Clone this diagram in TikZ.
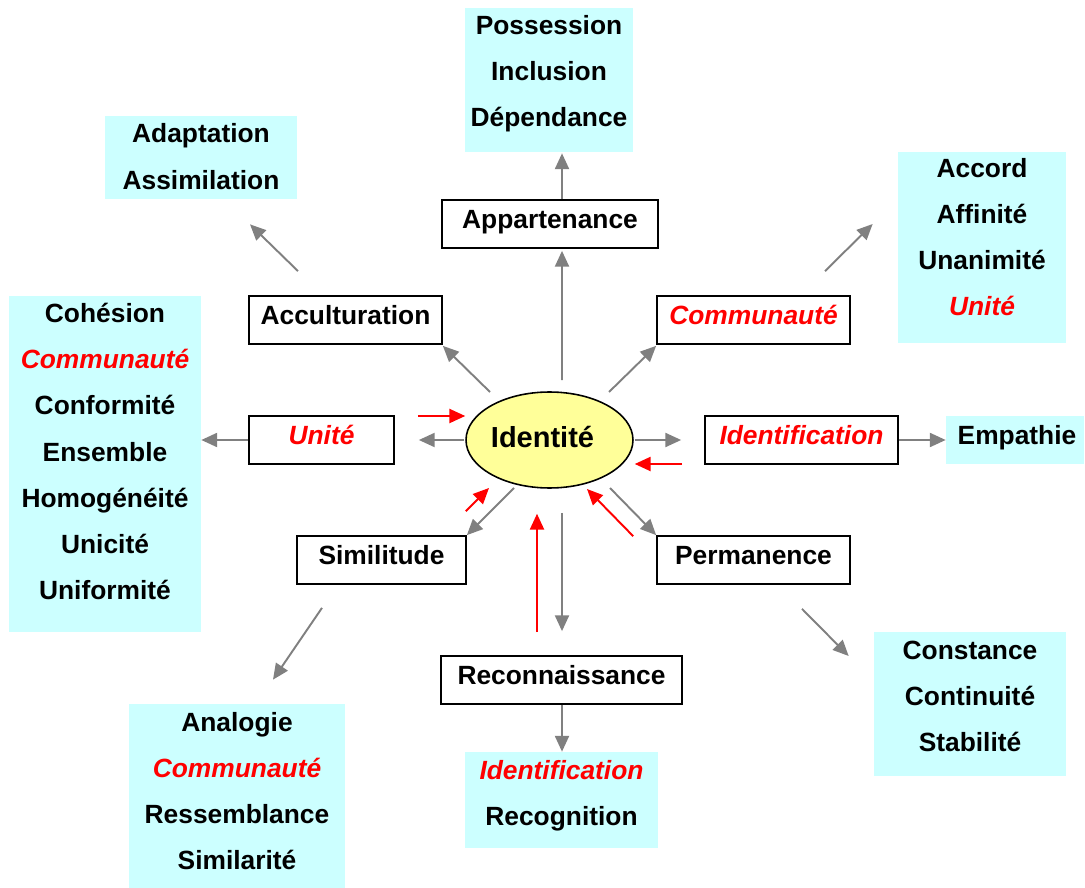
\documentclass[tikz,border=0pt]{standalone}
\usepackage{fontspec}
\setmainfont{Liberation Sans}
\usetikzlibrary{arrows.meta,shapes.geometric}
\definecolor{cyanbg}{HTML}{CCFFFF}
\definecolor{ellfill}{HTML}{FFFF99}
\definecolor{arrgray}{HTML}{808080}
\newcommand\fs{\fontsize{15}{18}\selectfont\bfseries}
\newcommand\redit{\color{red}\itshape}
\tikzset{
  wbox/.style={draw=black, line width=1pt, fill=white, inner sep=0pt,
    minimum height=0.96cm, font=\fs, text height=8pt, text depth=3.4pt},
  cbox/.style={fill=cyanbg, draw=none, inner sep=0pt},
  txt/.style={anchor=base, inner sep=0pt, font=\fs},
  ga/.style={draw=arrgray, line width=1.1pt, -{Triangle[length=9pt,width=8pt]}},
  ra/.style={draw=red, line width=1.1pt, -{Triangle[length=9pt,width=8pt]}},
}
\begin{document}
\begin{tikzpicture}[x=0.02cm,y=-0.02cm]
\useasboundingbox (0,0) rectangle (1085,888);

% cyan boxes
\node[cbox, minimum width=3.36cm, minimum height=2.88cm] (pos) at (549,80) {};
\node[cbox, minimum width=3.84cm, minimum height=1.66cm] (adapt) at (201,157.5) {};
\node[cbox, minimum width=3.36cm, minimum height=3.82cm] (accord) at (982,247.5) {};
\node[cbox, minimum width=3.84cm, minimum height=6.72cm] (coh) at (105,464) {};
\node[cbox, minimum width=2.76cm, minimum height=0.96cm] (emp) at (1015,440) {};
\node[cbox, minimum width=4.32cm, minimum height=3.68cm] (ana) at (237,796) {};
\node[cbox, minimum width=3.84cm, minimum height=2.88cm] (const) at (970,704) {};
\node[cbox, minimum width=3.86cm, minimum height=1.92cm] (rcg) at (561.5,800) {};

% texts in cyan boxes
\node[txt] (pos1) at (549,35) {Possession};
\node[txt] (pos2) at (549,81) {Inclusion};
\node[txt] (pos3) at (549,127) {Dépendance};

\node[txt] (adapt1) at (201,143) {Adaptation};
\node[txt] (adapt2) at (201,190) {Assimilation};

\node[txt] (accord1) at (982,178) {Accord};
\node[txt] (accord2) at (982,224) {Affinité};
\node[txt] (accord3) at (982,270) {Unanimité};
\node[txt] (accord4) at (982,316) {\redit Unité};

\node[txt] (coh1) at (105,323) {Cohésion};
\node[txt] (coh2) at (105,369) {\redit Communauté};
\node[txt] (coh3) at (105,415) {Conformité};
\node[txt] (coh4) at (105,461) {Ensemble};
\node[txt] (coh5) at (105,507) {Homogénéité};
\node[txt] (coh6) at (105,553) {Unicité};
\node[txt] (coh7) at (105,599) {Uniformité};

\node[txt] (emp1) at (1017,444) {Empathie};

\node[txt] (ana1) at (237,731) {Analogie};
\node[txt] (ana2) at (237,777) {\redit Communauté};
\node[txt] (ana3) at (237,823) {Ressemblance};
\node[txt] (ana4) at (237,869) {Similarité};

\node[txt] (const1) at (970,659) {Constance};
\node[txt] (const2) at (970,705) {Continuité};
\node[txt] (const3) at (970,751) {Stabilité};

\node[txt] (rcg1) at (561.5,779) {\redit Identification};
\node[txt] (rcg2) at (561.5,825) {Recognition};

% white boxes
\node[wbox, minimum width=4.32cm] (app) at (550,224) {Appartenance};
\node[wbox, minimum width=3.86cm] (acc) at (345.5,320) {Acculturation};
\node[wbox, minimum width=3.86cm] (com) at (753.5,320) {\redit Communauté};
\node[wbox, minimum width=2.90cm] (uni) at (321.5,440) {\redit Unité};
\node[wbox, minimum width=3.86cm] (idf) at (801.5,440) {\redit Identification};
\node[wbox, minimum width=3.38cm] (sim) at (381.5,560) {Similitude};
\node[wbox, minimum width=3.86cm] (per) at (753.5,560) {Permanence};
\node[wbox, minimum width=4.82cm] (rec) at (561.5,680) {Reconnaissance};

% central ellipse
\node[ellipse, draw=black, line width=0.9pt, fill=ellfill, inner sep=0pt,
  minimum width=3.34cm, minimum height=1.92cm,
  font=\fontsize{16.5}{20}\selectfont\bfseries, text height=11pt, text depth=1.9pt]
  (ell) at (549.5,440) {Identité\kern0.28cm};

% gray arrows
\draw[ga] ([shift={(12.5,-11)}]ell.north) -- ([shift={(12,2)}]app.south);
\draw[ga] ([shift={(12,0)}]app.north) -- ([shift={(13,1)}]pos.south);
\draw[ga] ([shift={(-59.5,-48)}]ell.center) -- ([shift={(0,1)}]acc.south east);
\draw[ga] ([shift={(-47.5,-24)}]acc.north) -- ([shift={(49,25)}]adapt.south);
\draw[ga] ([shift={(59.5,-48)}]ell.center) -- ([shift={(0,1)}]com.south west);
\draw[ga] ([shift={(71.5,-24)}]com.north) -- ([shift={(-25,-23.5)}]accord.west);
\draw[ga] ([shift={(1,0)}]ell.east) -- ([shift={(-23,0)}]idf.west);
\draw[ga] (idf.east) -- (emp.west);
\draw[ga] ([shift={(-1,0)}]ell.west) -- ([shift={(24,0)}]uni.east);
\draw[ga] (uni.west) -- ([shift={(0,-24)}]coh.east);
\draw[ga] ([shift={(-35.5,48)}]ell.center) -- (sim.north east);
\draw[ga] ([shift={(-59.5,23)}]sim.south) -- ([shift={(36,-24)}]ana.north);
\draw[ga] ([shift={(60.5,48)}]ell.center) -- (per.north west);
\draw[ga] ([shift={(48.5,24)}]per.south) -- ([shift={(-25,-48)}]const.west);
\draw[ga] ([shift={(12.5,24)}]ell.south) -- ([shift={(0.5,-24)}]rec.north);
\draw[ga] ([shift={(0.5,0)}]rec.south) -- ([shift={(0.5,0)}]rcg.north);

% red arrows
\draw[ra] ([shift={(23,-24)}]uni.east) -- ([shift={(0,-24)}]ell.west);
\draw[ra] ([shift={(-22,24)}]idf.west) -- ([shift={(1,24)}]ell.east);
\draw[ra] ([shift={(-1,-24)}]sim.north east) -- ([shift={(-60.5,48)}]ell.center);
\draw[ra] ([shift={(-24.5,-23)}]rec.north) -- ([shift={(-12.5,25)}]ell.south);
\draw[ra] ([shift={(-23,1)}]per.north west) -- ([shift={(37.5,49)}]ell.center);
\end{tikzpicture}
\end{document}
